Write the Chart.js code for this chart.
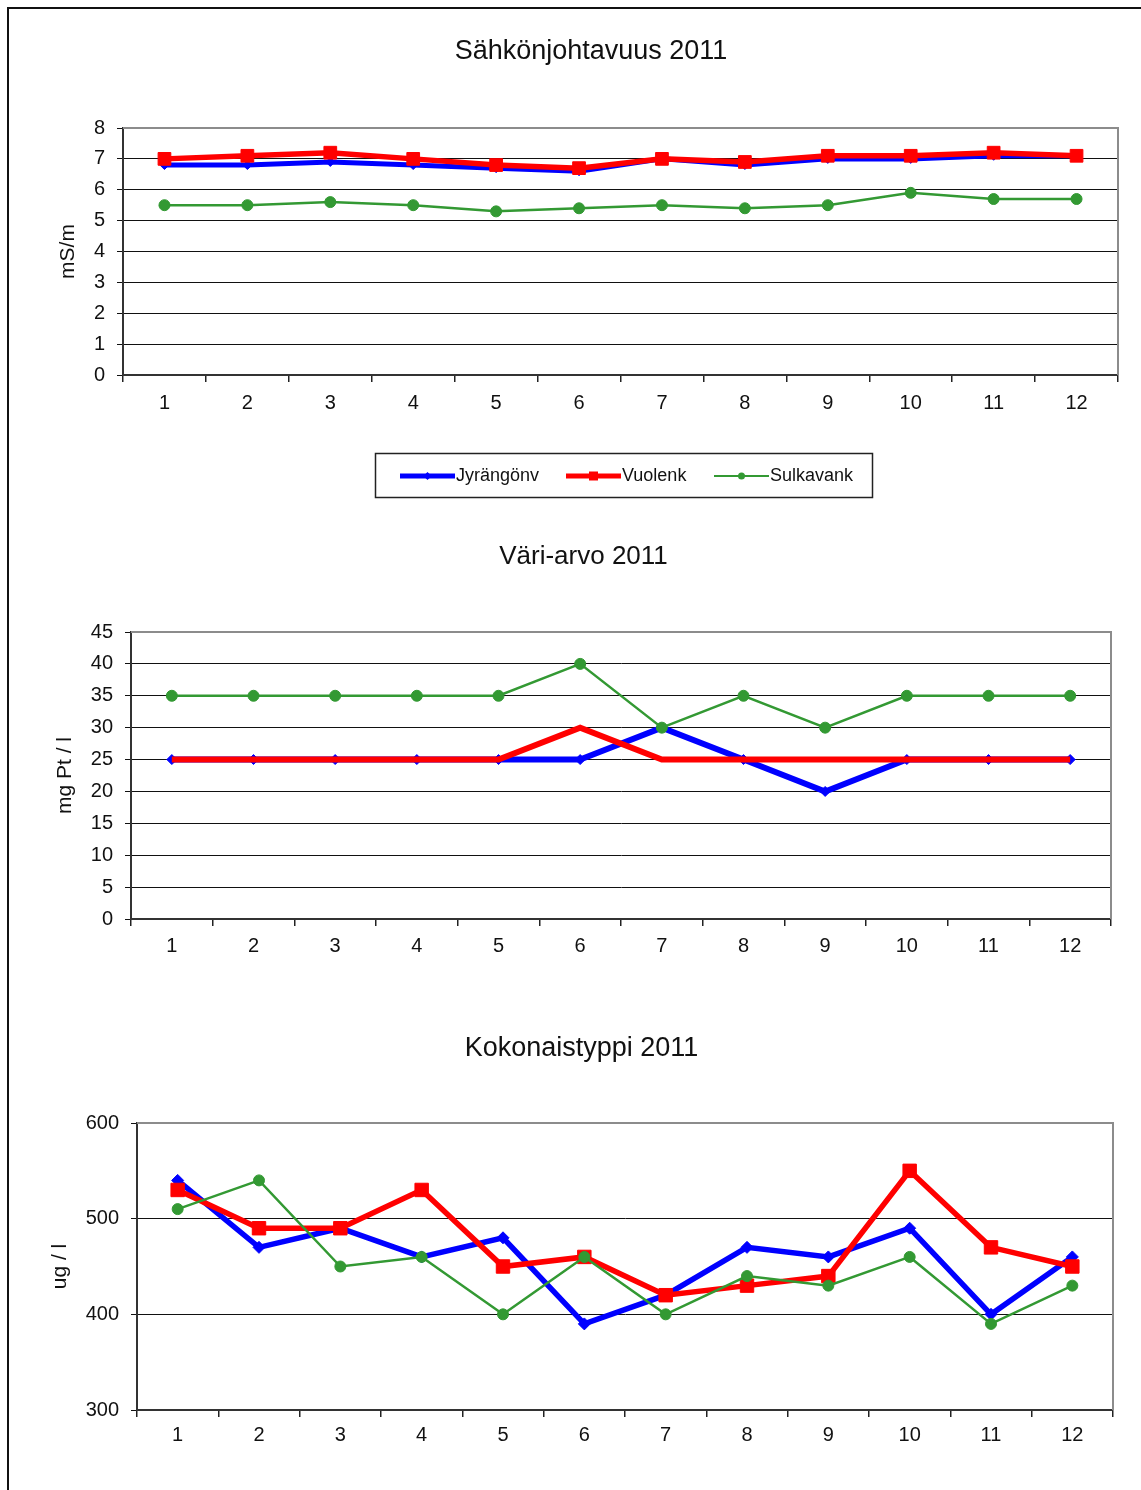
<!DOCTYPE html>
<html>
<head>
<meta charset="utf-8">
<script src="https://cdn.jsdelivr.net/npm/chart.js@4/dist/chart.umd.min.js"></script>
<style>
  html, body { margin: 0; padding: 0; background: #fff; overflow: hidden; }
  body { width: 1141px; height: 1490px; position: relative; }
  #frame { position: absolute; left: 7px; top: 7px; width: 1200px; height: 1600px;
           border-left: 2px solid #111; border-top: 2px solid #111; }
  canvas { position: absolute; }
</style>
</head>
<body>
<div id="frame"></div>
<canvas id="c1"></canvas>
<canvas id="c2"></canvas>
<canvas id="c3"></canvas>
<script>
// Months 1..12
const months = ['1', '2', '3', '4', '5', '6', '7', '8', '9', '10', '11', '12'];
const seriesNames = ['Jyrängönv', 'Vuolenk', 'Sulkavank'];

// Sähkönjohtavuus (mS/m)
const condJyr = [6.8, 6.8, 6.9, 6.8, 6.7, 6.6, 7.0, 6.8, 7.0, 7.0, 7.1, 7.1];
const condVuo = [7.0, 7.1, 7.2, 7.0, 6.8, 6.7, 7.0, 6.9, 7.1, 7.1, 7.2, 7.1];
const condSul = [5.5, 5.5, 5.6, 5.5, 5.3, 5.4, 5.5, 5.4, 5.5, 5.9, 5.7, 5.7];

// Väri-arvo (mg Pt / l)
const colorJyr = [25, 25, 25, 25, 25, 25, 30, 25, 20, 25, 25, 25];
const colorVuo = [25, 25, 25, 25, 25, 30, 25, 25, 25, 25, 25, 25];
const colorSul = [35, 35, 35, 35, 35, 40, 30, 35, 30, 35, 35, 35];

// Kokonaistyppi (ug / l)
const nitroJyr = [540, 470, 490, 460, 480, 390, 420, 470, 460, 490, 400, 460];
const nitroVuo = [530, 490, 490, 530, 450, 460, 420, 430, 440, 550, 470, 450];
const nitroSul = [510, 540, 450, 460, 400, 460, 400, 440, 430, 460, 390, 430];

// Y-axis tick ranges
const condTicks = { min: 0, max: 8, step: 1 };
const colorTicks = { min: 0, max: 45, step: 5 };
const nitroTicks = { min: 300, max: 600, step: 100 };

const FONT = '"Liberation Sans", Arial, Helvetica, sans-serif';
const BLUE = '#0000ff', RED = '#ff0000', GREEN = '#339933';

// Gray top/right edge of the plot area
const plotFrame = {
  id: 'plotFrame',
  beforeDatasetsDraw(chart) {
    const a = chart.chartArea, ctx = chart.ctx;
    ctx.save();
    ctx.strokeStyle = '#8c8c8c';
    ctx.lineWidth = 2;
    ctx.beginPath();
    ctx.moveTo(a.left, a.top);
    ctx.lineTo(a.right, a.top);
    ctx.lineTo(a.right, a.bottom);
    ctx.stroke();
    ctx.restore();
  }
};

function drawMarker(ctx, style, x, y, r, color) {
  ctx.fillStyle = color;
  ctx.beginPath();
  if (style === 'rect') {
    ctx.rect(x - r, y - r, 2 * r, 2 * r);
  } else if (style === 'rectRot') {
    ctx.moveTo(x - r, y); ctx.lineTo(x, y - r); ctx.lineTo(x + r, y); ctx.lineTo(x, y + r);
    ctx.closePath();
  } else {
    ctx.arc(x, y, r, 0, Math.PI * 2);
  }
  ctx.fill();
}

// Boxed legend under the first chart: line sample with marker, then name
const boxLegend = {
  id: 'boxLegend',
  afterDraw(chart, args, opts) {
    if (!opts.items) return;
    const ctx = chart.ctx;
    ctx.save();
    ctx.strokeStyle = '#222';
    ctx.lineWidth = 1.5;
    ctx.strokeRect(opts.x + 0.5, opts.y + 0.5, opts.w, opts.h);
    const cy = opts.y + opts.h / 2 + 1;
    ctx.font = '18px ' + FONT;
    ctx.textBaseline = 'middle';
    ctx.textAlign = 'left';
    opts.items.forEach((it, i) => {
      const ds = chart.data.datasets[i];
      ctx.strokeStyle = ds.borderColor;
      ctx.lineWidth = it.lw;
      ctx.lineCap = 'butt';
      ctx.beginPath();
      ctx.moveTo(it.x0, cy);
      ctx.lineTo(it.x1, cy);
      ctx.stroke();
      drawMarker(ctx, it.style, (it.x0 + it.x1) / 2, cy, it.r, ds.borderColor);
      ctx.fillStyle = '#111';
      ctx.fillText(ds.label, it.x1 + 1, cy);
    });
    ctx.restore();
  }
};

function makeChart(id, c) {
  const el = document.getElementById(id);
  el.width = c.w; el.height = c.h;
  el.style.left = c.left + 'px'; el.style.top = c.top + 'px';
  el.style.width = c.w + 'px'; el.style.height = c.h + 'px';

  const datasets = [
    { label: seriesNames[0], data: c.data[0], borderColor: BLUE, backgroundColor: BLUE,
      borderWidth: c.blueW, pointStyle: 'rectRot', pointRadius: c.blueR, pointBorderWidth: 1, order: 3 },
    { label: seriesNames[1], data: c.data[1], borderColor: RED, backgroundColor: RED,
      borderWidth: c.redW, pointStyle: 'rect', pointRadius: c.redR, pointBorderWidth: 1, order: 2 },
    { label: seriesNames[2], data: c.data[2], borderColor: GREEN, backgroundColor: GREEN,
      borderWidth: 2.5, pointStyle: 'circle', pointRadius: 5.5, pointBorderWidth: 1, order: 1 }
  ];

  return new Chart(el, {
    type: 'line',
    data: { labels: months, datasets },
    plugins: c.plugins,
    options: {
      responsive: false,
      animation: false,
      devicePixelRatio: 1,
      layout: { padding: { left: c.padLeft, right: c.padRight, top: 0, bottom: 0 } },
      elements: { line: { tension: 0 } },
      plugins: {
        legend: { display: false },
        tooltip: { enabled: false },
        title: {
          display: true, text: c.title, color: '#111',
          font: { family: FONT, size: c.titleSize, weight: 'normal' },
          padding: { top: c.titleTop, bottom: c.titleBottom }
        },
        boxLegend: c.legend || {}
      },
      scales: {
        x: {
          offset: true,
          grid: { offset: true, drawOnChartArea: false, drawTicks: true, tickLength: 7, color: '#222', lineWidth: 1.5 },
          border: { display: true, color: '#333', width: 2 },
          ticks: { color: '#111', padding: c.xPad, font: { family: FONT, size: c.tickSize }, maxRotation: 0, autoSkip: false },
          afterFit: s => { s.height = c.xAxisH; }
        },
        y: {
          min: c.ticks.min, max: c.ticks.max,
          grid: { color: '#111', lineWidth: 1, drawTicks: true, tickLength: 6 },
          border: { display: true, color: '#333', width: 2 },
          ticks: { stepSize: c.ticks.step, color: '#111', padding: 12, font: { family: FONT, size: c.tickSize } },
          title: { display: true, text: c.yTitle, color: '#111', padding: { top: c.yTitlePad, bottom: 0 },
                   font: { family: FONT, size: 21 } },
          afterFit: s => { s.width = c.yAxisW; }
        }
      }
    }
  });
}

makeChart('c1', {
  left: 0, top: 0, w: 1141, h: 510, padLeft: 64, padRight: 23, yAxisW: 59, xAxisH: 135,
  title: 'Sähkönjohtavuus 2011', titleSize: 27, titleTop: 35.8, titleBottom: 59.8,
  yTitle: 'mS/m', yTitlePad: -8.6, tickSize: 20, xPad: 9,
  ticks: condTicks, data: [condJyr, condVuo, condSul],
  blueW: 5, blueR: 4.5, redW: 5.5, redR: 9,
  plugins: [plotFrame, boxLegend],
  legend: {
    x: 375, y: 453, w: 497, h: 44,
    items: [
      { x0: 400, x1: 455, lw: 5, style: 'rectRot', r: 4 },
      { x0: 566, x1: 621, lw: 5, style: 'rect', r: 4.5 },
      { x0: 714, x1: 769, lw: 2, style: 'circle', r: 3.5 }
    ]
  }
});

makeChart('c2', {
  left: 0, top: 510, w: 1141, h: 470, padLeft: 56, padRight: 30, yAxisW: 75, xAxisH: 61,
  title: 'Väri-arvo 2011', titleSize: 26, titleTop: 31.4, titleBottom: 59.4,
  yTitle: 'mg Pt / l', yTitlePad: -3.6, tickSize: 20, xPad: 8,
  ticks: colorTicks, data: [colorJyr, colorVuo, colorSul],
  blueW: 6, blueR: 5, redW: 6, redR: 0,
  plugins: [plotFrame]
});

makeChart('c3', {
  left: 0, top: 980, w: 1141, h: 510, padLeft: 50, padRight: 28, yAxisW: 87, xAxisH: 80,
  title: 'Kokonaistyppi 2011', titleSize: 27, titleTop: 52.8, titleBottom: 57.8,
  yTitle: 'ug / l', yTitlePad: -2.6, tickSize: 20, xPad: 6,
  ticks: nitroTicks, data: [nitroJyr, nitroVuo, nitroSul],
  blueW: 5.5, blueR: 6, redW: 5.5, redR: 9.5,
  plugins: [plotFrame]
});
</script>
</body>
</html>
